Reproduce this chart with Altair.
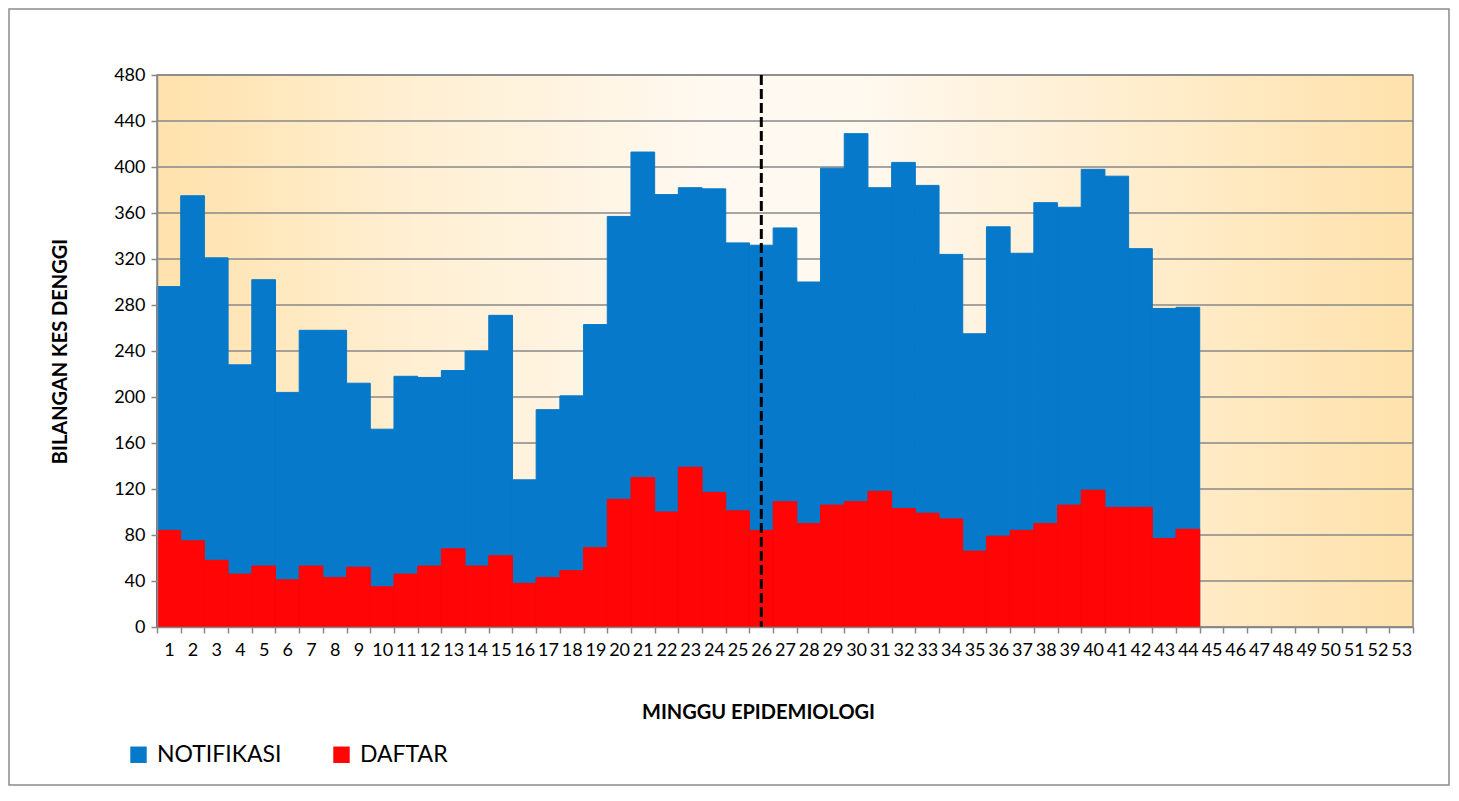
import altair as alt
import pandas as pd

weeks = [str(i) for i in range(1, 54)]
notifikasi = [296, 375, 321, 228, 302, 204, 258, 258, 212, 172, 218, 217, 223, 240, 271,
              128, 189, 201, 263, 357, 413, 376, 382, 381, 334, 332, 347, 300, 399, 429,
              382, 404, 384, 324, 255, 348, 325, 369, 365, 398, 392, 329, 277, 278]
daftar = [84, 75, 58, 46, 53, 41, 53, 43, 52, 35, 46, 53, 68, 53, 62,
          38, 43, 49, 69, 111, 130, 100, 139, 117, 101, 84, 109, 90, 106, 109,
          118, 103, 99, 94, 66, 79, 84, 90, 106, 119, 104, 104, 77, 85]
series = ["NOTIFIKASI", "DAFTAR"]
series_colors = ["#0679CA", "#FF0505"]
y_ticks = list(range(0, 481, 40))
marker_week = "26"

rows = []
for name, vals in zip(series, [notifikasi, daftar]):
    for w, v in zip(weeks, vals):
        rows.append({"week": w, "value": v, "series": name})
df = pd.DataFrame(rows)

W, H = 1256, 552
FONT = "Lato"
GRID = "#888888"

xscale = alt.Scale(domain=weeks, paddingInner=0, paddingOuter=0)
cscale = alt.Scale(domain=series, range=series_colors)

bg = alt.Chart(alt.InlineData(values=[{"bg": 1}])).mark_rect(
    fill=alt.LinearGradient(
        gradient="linear", x1=0, x2=1, y1=0, y2=0,
        stops=[alt.GradientStop(color="#FFE2AC", offset=0),
               alt.GradientStop(color="#FFEFD2", offset=0.2),
               alt.GradientStop(color="#FFF9F1", offset=0.45),
               alt.GradientStop(color="#FFF9F0", offset=0.55),
               alt.GradientStop(color="#FFE2AC", offset=1)]),
    stroke=GRID, strokeWidth=1.5,
).encode(x=alt.value(0), x2=alt.value(W), y=alt.value(0), y2=alt.value(H))

frame = alt.Chart(alt.InlineData(values=[{"f": 1}])).mark_rect(
    fill=None, stroke="#8C8C8C", strokeWidth=1.5
).encode(x=alt.value(-148), x2=alt.value(1292), y=alt.value(-66), y2=alt.value(710))

grid = alt.Chart(pd.DataFrame({"v": y_ticks})).mark_rule(
    color=GRID, strokeWidth=1.5
).encode(y=alt.Y("v:Q", scale=alt.Scale(domain=[0, 480])))

bars = alt.Chart(df).mark_bar(strokeWidth=1).encode(
    x=alt.X("week:N", scale=xscale, sort=weeks,
            axis=alt.Axis(title="MINGGU EPIDEMIOLOGI", labelAngle=0, tickBand="extent",
                          labelFont=FONT, labelFontSize=18, labelColor="black",
                          labelPadding=8, tickSize=6, tickColor=GRID, tickWidth=1.5,
                          domainColor=GRID, domainWidth=1.5, grid=False,
                          titleFont=FONT, titleFontSize=20, titleFontWeight="bold",
                          titleColor="black", titleX=601, titleY=85,
                          titleAlign="center", titleBaseline="middle", zindex=1,
                          labelOverlap=False)),
    y=alt.Y("value:Q", stack=None, scale=alt.Scale(domain=[0, 480], nice=False),
            axis=alt.Axis(title="BILANGAN KES DENGGI", values=y_ticks, grid=False,
                          labelFont=FONT, labelFontSize=18, labelColor="black",
                          labelPadding=6, tickSize=6, tickColor=GRID, tickWidth=1.5,
                          domainColor=GRID, domainWidth=1.5,
                          titleFont=FONT, titleFontSize=20, titleFontWeight="bold",
                          titleColor="black", titleX=-97, titleY=H / 2,
                          titleAlign="center", titleBaseline="middle", titleAngle=-90,
                          zindex=1)),
    color=alt.Color("series:N", scale=cscale,
                    legend=alt.Legend(title=None, orient="none", direction="horizontal",
                                      legendX=-30, legendY=668, symbolType="square",
                                      symbolSize=270, symbolStrokeWidth=0,
                                      labelFont=FONT, labelFontSize=23,
                                      labelColor="black", labelOffset=7,
                                      columnPadding=48)),
    stroke=alt.Stroke("series:N", scale=cscale, legend=None),
)

marker = alt.Chart(pd.DataFrame({"week": [marker_week]})).mark_rule(
    color="black", strokeWidth=3, strokeDash=[10, 4]
).encode(x=alt.X("week:N", scale=xscale, sort=weeks))

chart = alt.layer(bg, frame, grid, bars, marker).properties(
    width=W, height=H,
    autosize=alt.AutoSizeParams(type="none"),
    padding={"left": 149, "top": 67, "right": 38, "bottom": 161},
).configure_view(stroke=None).configure(background="white")

chart.save("out.html", embed_options={"renderer": "svg", "actions": False})
